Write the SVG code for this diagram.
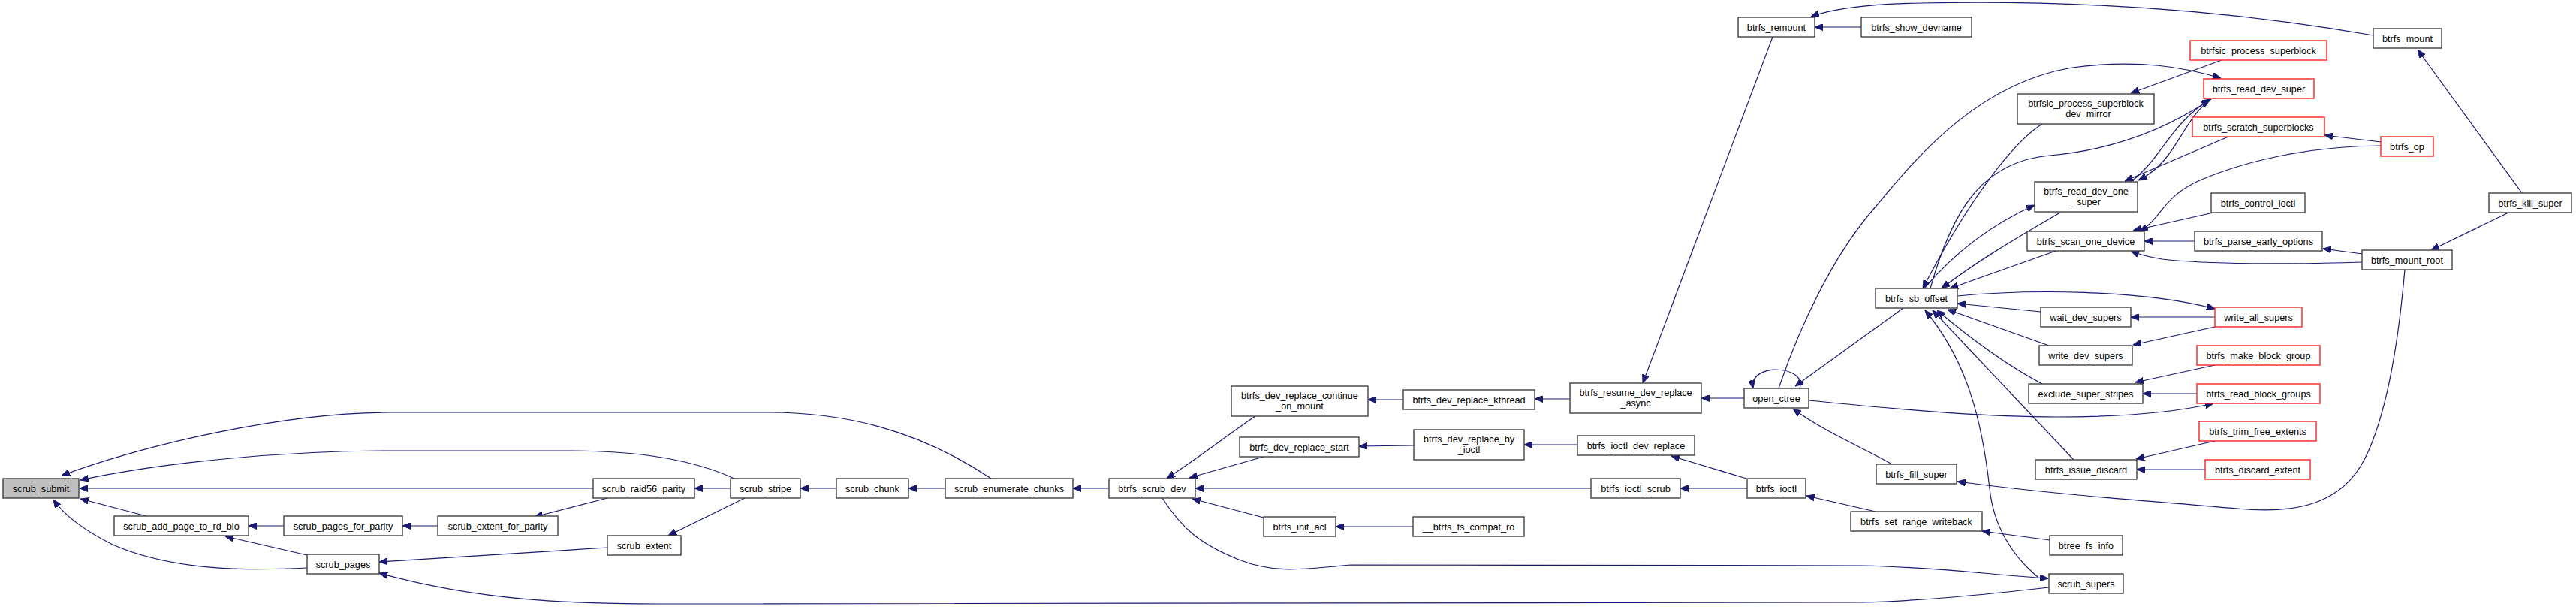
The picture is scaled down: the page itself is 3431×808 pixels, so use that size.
<svg xmlns="http://www.w3.org/2000/svg" width="3431" height="808" viewBox="0 0 3431 808">
<style>
.n rect{fill:#fff;stroke:#404040;stroke-width:1.4}
.n.r rect{stroke:#ff2020}
.n.m rect{fill:#bfbfbf}
.n text{font-family:"Liberation Sans",Arial,Helvetica,sans-serif;font-size:12.7px;fill:#000;text-anchor:middle}
.e path{fill:none;stroke:#191970;stroke-width:1.2;marker-end:url(#a)}
</style>
<defs>
<marker id="a" markerWidth="11" markerHeight="9" refX="11" refY="4.5" orient="auto" markerUnits="userSpaceOnUse"><path d="M0,0 L11,4.5 L0,9 z" fill="#191970" stroke="#191970" stroke-width="1"/></marker>
</defs>
<rect width="3431" height="808" fill="#fff"/>
<g class="e" id="edges">
<path d="M1320,637 C1220,570 1120,549 1025,549 L520,549 C380,549 200,590 82,633"/>
<path d="M978,637 C930,615 860,600 760,600 L520,600 C380,600 220,615 107,639"/>
<path d="M790,650 L106,650"/>
<path d="M195,687 L107,664"/>
<path d="M409,756 C330,760 230,760 150,725 C110,705 85,685 71,665"/>
<path d="M378,700 L331,700"/>
<path d="M409,739 L300,714"/>
<path d="M583,700 L536,700"/>
<path d="M809,663 L712,688"/>
<path d="M809,729 L505,748"/>
<path d="M2729,782 C2640,792 2560,800 2480,802 L880,804 C760,804 640,800 505,763"/>
<path d="M1548,663 C1575,705 1600,725 1650,745 C1700,765 1740,757 1800,752 L2480,753 C2580,755 2650,765 2728,770"/>
<path d="M973,650 L925,650"/>
<path d="M992,663 L890,713"/>
<path d="M1114,650 L1066,650"/>
<path d="M1259,650 L1210,650"/>
<path d="M1477,650 L1429,650"/>
<path d="M1672,554 C1640,575 1610,600 1554,637"/>
<path d="M1683,608 L1584,636"/>
<path d="M2119,650 L1592,650"/>
<path d="M1683,689 L1588,664"/>
<path d="M1869,532 L1822,532"/>
<path d="M2091,531 L2044,531"/>
<path d="M2323,530 L2266,530"/>
<path d="M2361,49 L2188,510"/>
<path d="M2397,517 C2408,486 2328,482 2335,517"/>
<path d="M2369,517 C2395,440 2440,340 2500,273 C2560,200 2640,110 2760,90 C2850,78 2910,90 2958,104"/>
<path d="M2535,410 L2391,514"/>
<path d="M2409,533 C2560,548 2650,555 2740,555 C2830,555 2900,548 2948,537"/>
<path d="M2520,618 C2480,595 2430,575 2388,544"/>
<path d="M2101,592 L2030,592"/>
<path d="M1883,593 L1810,594"/>
<path d="M2326,637 L2226,607"/>
<path d="M2327,650 L2238,650"/>
<path d="M2498,681 L2406,660"/>
<path d="M1882,701 L1779,701"/>
<path d="M2730,719 L2640,707"/>
<path d="M2479,36 L2417,36"/>
<path d="M3161,47 C2950,10 2750,0 2560,4 C2490,5 2440,12 2412,22"/>
<path d="M3359,257 L3220,66"/>
<path d="M3341,283 L3238,333"/>
<path d="M3146,338 L3094,331"/>
<path d="M3146,349 C3050,352 2940,352 2880,345 C2860,342 2850,339 2838,334"/>
<path d="M2923,321 L2856,321"/>
<path d="M2948,283 L2841,307"/>
<path d="M3171,194 C3090,194 3000,210 2930,240 C2880,262 2880,290 2850,308"/>
<path d="M3171,189 L3096,180"/>
<path d="M3203,359 C3195,450 3180,550 3150,610 C3120,670 3060,685 2980,677 C2880,668 2750,660 2607,641"/>
<path d="M2959,80 L2838,124"/>
<path d="M2571,384 C2600,280 2640,215 2730,207 C2810,200 2880,175 2943,133"/>
<path d="M2945,132 C2905,160 2900,215 2848,240"/>
<path d="M2838,242 C2880,210 2890,165 2944,132"/>
<path d="M2968,182 L2830,241"/>
<path d="M2563,384 C2600,340 2650,300 2710,273"/>
<path d="M2744,283 C2680,320 2630,350 2586,384"/>
<path d="M2720,165 C2680,190 2620,270 2561,384"/>
<path d="M2741,333 L2597,384"/>
<path d="M2607,394 C2700,385 2850,385 2950,411"/>
<path d="M2718,415 L2607,404"/>
<path d="M2950,422 L2838,422"/>
<path d="M2950,435 L2841,459"/>
<path d="M2729,460 L2594,412"/>
<path d="M2720,511 C2680,490 2630,455 2580,413"/>
<path d="M2762,612 L2574,413"/>
<path d="M2714,768 C2680,740 2655,700 2650,650 C2640,560 2620,480 2564,413"/>
<path d="M2950,486 L2844,509"/>
<path d="M2926,524 L2854,524"/>
<path d="M2950,587 L2845,611"/>
<path d="M2937,625 L2846,625"/>
</g>
<g id="n1" class="n m"><rect x="4" y="637" width="101" height="26"/><text x="54.5" y="654.5">scrub_submit</text></g>
<g id="n2" class="n"><rect x="152" y="687" width="179" height="26"/><text x="241.5" y="704.5">scrub_add_page_to_rd_bio</text></g>
<g id="n3" class="n"><rect x="378" y="687" width="158" height="26"/><text x="457" y="704.5">scrub_pages_for_parity</text></g>
<g id="n4" class="n"><rect x="583" y="687" width="160" height="26"/><text x="663" y="704.5">scrub_extent_for_parity</text></g>
<g id="n5" class="n"><rect x="409" y="738" width="96" height="26"/><text x="457" y="755.5">scrub_pages</text></g>
<g id="n6" class="n"><rect x="790" y="637" width="135" height="26"/><text x="857.5" y="654.5">scrub_raid56_parity</text></g>
<g id="n7" class="n"><rect x="809" y="713" width="98" height="26"/><text x="858" y="730.5">scrub_extent</text></g>
<g id="n8" class="n"><rect x="973" y="637" width="93" height="26"/><text x="1019.5" y="654.5">scrub_stripe</text></g>
<g id="n9" class="n"><rect x="1114" y="637" width="96" height="26"/><text x="1162" y="654.5">scrub_chunk</text></g>
<g id="n10" class="n"><rect x="1259" y="637" width="170" height="26"/><text x="1344" y="654.5">scrub_enumerate_chunks</text></g>
<g id="n11" class="n"><rect x="1477" y="637" width="115" height="26"/><text x="1534.5" y="654.5">btrfs_scrub_dev</text></g>
<g id="n12" class="n"><rect x="1640" y="514" width="182" height="40"/><text x="1731" y="530.5">btrfs_dev_replace_continue</text><text x="1731" y="545">_on_mount</text></g>
<g id="n13" class="n"><rect x="1651" y="582" width="159" height="26"/><text x="1730.5" y="599.5">btrfs_dev_replace_start</text></g>
<g id="n14" class="n"><rect x="1683" y="688" width="96" height="26"/><text x="1731" y="705.5">btrfs_init_acl</text></g>
<g id="n15" class="n"><rect x="1869" y="519" width="175" height="26"/><text x="1956.5" y="536.5">btrfs_dev_replace_kthread</text></g>
<g id="n16" class="n"><rect x="1883" y="572" width="147" height="40"/><text x="1956.5" y="588.5">btrfs_dev_replace_by</text><text x="1956.5" y="603">_ioctl</text></g>
<g id="n17" class="n"><rect x="1882" y="688" width="148" height="26"/><text x="1956" y="705.5">__btrfs_fs_compat_ro</text></g>
<g id="n18" class="n"><rect x="2091" y="510" width="175" height="40"/><text x="2178.5" y="526.5">btrfs_resume_dev_replace</text><text x="2178.5" y="541">_async</text></g>
<g id="n19" class="n"><rect x="2101" y="580" width="156" height="26"/><text x="2179" y="597.5">btrfs_ioctl_dev_replace</text></g>
<g id="n20" class="n"><rect x="2119" y="637" width="119" height="26"/><text x="2178.5" y="654.5">btrfs_ioctl_scrub</text></g>
<g id="n21" class="n"><rect x="2315" y="23" width="102" height="26"/><text x="2366" y="40.5">btrfs_remount</text></g>
<g id="n22" class="n"><rect x="2323" y="517" width="86" height="26"/><text x="2366" y="534.5">open_ctree</text></g>
<g id="n23" class="n"><rect x="2327" y="637" width="78" height="26"/><text x="2366" y="654.5">btrfs_ioctl</text></g>
<g id="n24" class="n"><rect x="2479" y="23" width="147" height="26"/><text x="2552.5" y="40.5">btrfs_show_devname</text></g>
<g id="n25" class="n"><rect x="2498" y="384" width="109" height="26"/><text x="2552.5" y="401.5">btrfs_sb_offset</text></g>
<g id="n26" class="n"><rect x="2499" y="618" width="107" height="26"/><text x="2552.5" y="635.5">btrfs_fill_super</text></g>
<g id="n27" class="n"><rect x="2465" y="681" width="175" height="26"/><text x="2552.5" y="698.5">btrfs_set_range_writeback</text></g>
<g id="n28" class="n"><rect x="2687" y="125" width="182" height="40"/><text x="2778" y="141.5">btrfsic_process_superblock</text><text x="2778" y="156">_dev_mirror</text></g>
<g id="n29" class="n"><rect x="2710" y="242" width="137" height="40"/><text x="2778.5" y="258.5">btrfs_read_dev_one</text><text x="2778.5" y="273">_super</text></g>
<g id="n30" class="n"><rect x="2700" y="308" width="156" height="26"/><text x="2778" y="325.5">btrfs_scan_one_device</text></g>
<g id="n31" class="n"><rect x="2718" y="409" width="120" height="26"/><text x="2778" y="426.5">wait_dev_supers</text></g>
<g id="n32" class="n"><rect x="2716" y="460" width="124" height="26"/><text x="2778" y="477.5">write_dev_supers</text></g>
<g id="n33" class="n"><rect x="2702" y="511" width="152" height="26"/><text x="2778" y="528.5">exclude_super_stripes</text></g>
<g id="n34" class="n"><rect x="2711" y="612" width="135" height="26"/><text x="2778.5" y="629.5">btrfs_issue_discard</text></g>
<g id="n35" class="n"><rect x="2730" y="713" width="97" height="26"/><text x="2778.5" y="730.5">btree_fs_info</text></g>
<g id="n36" class="n"><rect x="2729" y="764" width="99" height="26"/><text x="2778.5" y="781.5">scrub_supers</text></g>
<g id="n37" class="n r"><rect x="2917" y="54" width="182" height="26"/><text x="3008" y="71.5">btrfsic_process_superblock</text></g>
<g id="n38" class="n r"><rect x="2935" y="105" width="147" height="26"/><text x="3008.5" y="122.5">btrfs_read_dev_super</text></g>
<g id="n39" class="n r"><rect x="2920" y="156" width="176" height="26"/><text x="3008" y="173.5">btrfs_scratch_superblocks</text></g>
<g id="n40" class="n"><rect x="2945" y="257" width="125" height="26"/><text x="3007.5" y="274.5">btrfs_control_ioctl</text></g>
<g id="n41" class="n"><rect x="2923" y="308" width="170" height="26"/><text x="3008" y="325.5">btrfs_parse_early_options</text></g>
<g id="n42" class="n r"><rect x="2950" y="409" width="116" height="26"/><text x="3008" y="426.5">write_all_supers</text></g>
<g id="n43" class="n r"><rect x="2926" y="460" width="164" height="26"/><text x="3008" y="477.5">btrfs_make_block_group</text></g>
<g id="n44" class="n r"><rect x="2926" y="511" width="164" height="26"/><text x="3008" y="528.5">btrfs_read_block_groups</text></g>
<g id="n45" class="n r"><rect x="2929" y="561" width="156" height="26"/><text x="3007" y="578.5">btrfs_trim_free_extents</text></g>
<g id="n46" class="n r"><rect x="2937" y="612" width="140" height="26"/><text x="3007" y="629.5">btrfs_discard_extent</text></g>
<g id="n47" class="n"><rect x="3161" y="38" width="91" height="26"/><text x="3206.5" y="55.5">btrfs_mount</text></g>
<g id="n48" class="n r"><rect x="3171" y="182" width="70" height="26"/><text x="3206" y="199.5">btrfs_op</text></g>
<g id="n49" class="n"><rect x="3146" y="333" width="120" height="26"/><text x="3206" y="350.5">btrfs_mount_root</text></g>
<g id="n50" class="n"><rect x="3315" y="257" width="110" height="26"/><text x="3370" y="274.5">btrfs_kill_super</text></g>
</svg>
